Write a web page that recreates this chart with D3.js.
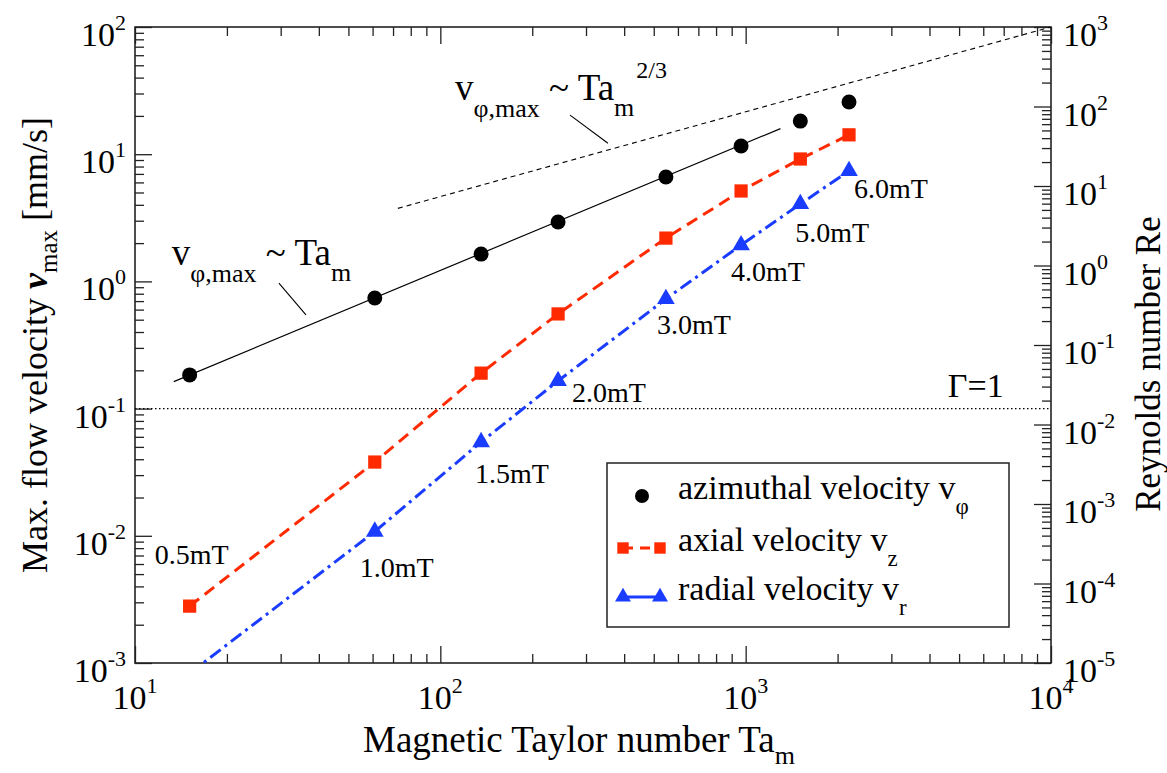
<!DOCTYPE html>
<html><head><meta charset="utf-8">
<script src="https://cdn.jsdelivr.net/npm/d3@7"></script>
<style>
body{margin:0;background:#fff}
svg text{font-family:"Liberation Serif","Times New Roman",serif;fill:#000}
</style>
</head><body>
<svg id="chart" width="1167" height="773"></svg>
<script>
// ---------------- data ----------------
const fieldLabels = ["0.5mT","1.0mT","1.5mT","2.0mT","3.0mT","4.0mT","5.0mT","6.0mT"];
const taM   = [15.1, 61.0, 136, 243, 548, 966, 1510, 2180];
const vPhi  = [0.184, 0.74, 1.64, 2.93, 6.62, 11.6, 18.2, 25.7];
const vZ    = [0.0028, 0.038, 0.19, 0.555, 2.19, 5.14, 9.17, 14.2];
const vR    = [0.00083, 0.0108, 0.0546, 0.165, 0.728, 1.93, 4.06, 7.38];
const fitLinTa = [13.4, 1300],  fitLinV = [0.163, 15.9];      // v ~ Ta
const fitTwoTa = [72.6, 10000], fitTwoV = [3.75, 100];         // v ~ Ta^(2/3)
const gammaTa = [10, 10000], gammaV = [0.1, 0.1];              // Γ=1
const xMajor  = [1e1, 1e2, 1e3, 1e4];
const yMajor  = [1e-3, 1e-2, 1e-1, 1e0, 1e1, 1e2];
const reMajor = [1e-5, 1e-4, 1e-3, 1e-2, 1e-1, 1e0, 1e1, 1e2, 1e3];
const xExp  = [1, 2, 3, 4];
const yExp  = [-3, -2, -1, 0, 1, 2];
const reExp = [-5, -4, -3, -2, -1, 0, 1, 2, 3];

// ---------------- layout ----------------
const L = 135, R = 1051, T = 27, B = 663;
const svg = d3.select("#chart");
const x   = d3.scaleLog().domain([10, 1e4]).range([L, R]);
const y   = d3.scaleLog().domain([1e-3, 1e2]).range([B, T]);
const yRe = d3.scaleLog().domain([1e-5, 1e3]).range([B, T]);

function minors(lo, hi) {
  const out = [];
  for (let e = lo; e < hi; e++) for (let k = 2; k <= 9; k++) out.push(k * Math.pow(10, e));
  return out;
}
const axisColor = "#222";

function styleAxis(g) {
  g.select(".domain").remove();
  g.selectAll(".tick line").attr("stroke", axisColor).attr("stroke-width", 1.3);
  g.selectAll(".tick text").remove();
}

// bottom
svg.append("g").attr("transform", `translate(0,${B})`)
  .call(d3.axisBottom(x).tickValues(xMajor).tickSize(-17)).call(styleAxis);
svg.append("g").attr("transform", `translate(0,${B})`)
  .call(d3.axisBottom(x).tickValues(minors(1, 4)).tickSize(-9)).call(styleAxis);
// top
svg.append("g").attr("transform", `translate(0,${T})`)
  .call(d3.axisTop(x).tickValues(xMajor).tickSize(-17)).call(styleAxis);
svg.append("g").attr("transform", `translate(0,${T})`)
  .call(d3.axisTop(x).tickValues(minors(1, 4)).tickSize(-9)).call(styleAxis);
// left
svg.append("g").attr("transform", `translate(${L},0)`)
  .call(d3.axisLeft(y).tickValues(yMajor).tickSize(-17)).call(styleAxis);
svg.append("g").attr("transform", `translate(${L},0)`)
  .call(d3.axisLeft(y).tickValues(minors(-3, 2)).tickSize(-9)).call(styleAxis);
// right
svg.append("g").attr("transform", `translate(${R},0)`)
  .call(d3.axisRight(yRe).tickValues(reMajor).tickSize(-17)).call(styleAxis);
svg.append("g").attr("transform", `translate(${R},0)`)
  .call(d3.axisRight(yRe).tickValues(minors(-5, 3)).tickSize(-9)).call(styleAxis);

// frame
svg.append("rect").attr("x", L).attr("y", T).attr("width", R - L).attr("height", B - T)
  .attr("fill", "none").attr("stroke", axisColor).attr("stroke-width", 1.6);

// tick labels
const TF = 34, SF = 22;
function powLabel(sel, e) {
  sel.append("tspan").text("10");
  sel.append("tspan").attr("font-size", SF).attr("dy", -16).text(e);
}
xMajor.forEach((v, i) => {
  svg.append("text").attr("x", x(v)).attr("y", B + 46).attr("text-anchor", "middle")
    .attr("font-size", TF).call(powLabel, xExp[i]);
});
yMajor.forEach((v, i) => {
  svg.append("text").attr("x", L - 9).attr("y", y(v) + 19).attr("text-anchor", "end")
    .attr("font-size", TF).call(powLabel, yExp[i]);
});
reMajor.forEach((v, i) => {
  svg.append("text").attr("x", R + 12).attr("y", yRe(v) + 19).attr("text-anchor", "start")
    .attr("font-size", TF).call(powLabel, reExp[i]);
});

// axis titles
const xt = svg.append("text").attr("x", (L + R) / 2 - 14).attr("y", 752)
  .attr("text-anchor", "middle").attr("font-size", 37);
xt.append("tspan").text("Magnetic Taylor number Ta");
xt.append("tspan").attr("font-size", 26).attr("dy", 12).text("m");

const yt = svg.append("text").attr("transform", `translate(47,${(T + B) / 2}) rotate(-90)`)
  .attr("text-anchor", "middle").attr("font-size", 36);
yt.append("tspan").text("Max. flow velocity ");
yt.append("tspan").attr("font-weight", "bold").attr("font-style", "italic").text("v");
yt.append("tspan").attr("font-size", 25).attr("dy", 10).text("max");
yt.append("tspan").attr("dy", -10).text(" [mm/s]");

svg.append("text").attr("transform", `translate(1160,${(T + B) / 2 + 19}) rotate(-90)`)
  .attr("text-anchor", "middle").attr("font-size", 35).text("Reynolds number Re");

// ---------------- plot ----------------
svg.append("clipPath").attr("id", "clip").append("rect")
  .attr("x", L).attr("y", T).attr("width", R - L).attr("height", B - T);
const plot = svg.append("g").attr("clip-path", "url(#clip)");

const line = d3.line().x(d => x(d[0])).y(d => y(d[1]));
const zip = (a, b) => a.map((v, i) => [v, b[i]]);

const RED = "#ff2a00", BLUE = "#1a3cff";

plot.append("path").datum(zip(gammaTa, gammaV)).attr("d", line)
  .attr("fill", "none").attr("stroke", "#000").attr("stroke-width", 1.2).attr("stroke-dasharray", "1.5,2.5");
plot.append("path").datum(zip(fitTwoTa, fitTwoV)).attr("d", line)
  .attr("fill", "none").attr("stroke", "#000").attr("stroke-width", 1.1).attr("stroke-dasharray", "5,4");
plot.append("path").datum(zip(fitLinTa, fitLinV)).attr("d", line)
  .attr("fill", "none").attr("stroke", "#000").attr("stroke-width", 1.2);

plot.append("path").datum(zip(taM, vZ)).attr("d", line)
  .attr("fill", "none").attr("stroke", RED).attr("stroke-width", 3).attr("stroke-dasharray", "12,7");
plot.append("path").datum(zip(taM, vR)).attr("d", line)
  .attr("fill", "none").attr("stroke", BLUE).attr("stroke-width", 3).attr("stroke-dasharray", "13,5,3,5");

const sq = d3.symbol().type(d3.symbolSquare).size(175);
const tri = d3.symbol().type(d3.symbolTriangle).size(135);

plot.selectAll(".phi").data(zip(taM, vPhi)).join("circle")
  .attr("cx", d => x(d[0])).attr("cy", d => y(d[1])).attr("r", 7.5).attr("fill", "#000");
plot.selectAll(".vz").data(zip(taM, vZ)).join("path")
  .attr("transform", d => `translate(${x(d[0])},${y(d[1])})`).attr("d", sq).attr("fill", RED);
plot.selectAll(".vr").data(zip(taM, vR)).join("path")
  .attr("transform", d => `translate(${x(d[0])},${y(d[1])})`).attr("d", tri).attr("fill", BLUE);

// field labels (offsets from the radial-velocity point, 0.5mT from axial point)
const labelOff = [[-35, -42], [-15, 45], [-6, 41], [14, 21], [-9, 35], [-10, 36], [-5, 38], [5, 27]];
fieldLabels.forEach((s, i) => {
  const base = i === 0 ? [taM[i], vZ[i]] : [taM[i], vR[i]];
  svg.append("text").attr("x", x(base[0]) + labelOff[i][0]).attr("y", y(base[1]) + labelOff[i][1])
    .attr("font-size", 28).text(s);
});

// annotations (anchors in data space)
function annot(ta, v, sup) {
  const t = svg.append("text").attr("x", x(ta)).attr("y", y(v)).attr("font-size", 37);
  t.append("tspan").text("v");
  t.append("tspan").attr("font-size", 26).attr("dy", 17).text("φ,max");
  t.append("tspan").attr("dy", -17).text(" ~ Ta");
  t.append("tspan").attr("font-size", 26).attr("dy", 16).text("m");
  if (sup) t.append("tspan").attr("font-size", 24).attr("dy", -38).attr("dx", 2).text(sup);
}
annot(13.2, 1.35, null);
annot(111.7, 26.7, "2/3");
const leader = [[[29.6, 0.971], [36.3, 0.545]], [[266, 20.3], [354, 12.2]]];
leader.forEach(seg => {
  svg.append("path").datum(seg).attr("d", line).attr("stroke", "#000").attr("stroke-width", 1.1).attr("fill", "none");
});
svg.append("text").attr("x", x(7000)).attr("y", y(gammaV[0]) - 12).attr("text-anchor", "end")
  .attr("font-size", 34).text("Γ=1");

// ---------------- legend ----------------
const lg = svg.append("g");
lg.append("rect").attr("x", 607).attr("y", 463).attr("width", 402).attr("height", 164)
  .attr("fill", "#fff").attr("stroke", axisColor).attr("stroke-width", 1.5);
const rows = [
  {y: 496, name: "azimuthal velocity v", sub: "φ"},
  {y: 548, name: "axial velocity v", sub: "z"},
  {y: 597, name: "radial velocity v", sub: "r"}
];
lg.append("circle").attr("cx", 642).attr("cy", rows[0].y).attr("r", 7).attr("fill", "#000");
lg.append("line").attr("x1", 623).attr("x2", 660).attr("y1", rows[1].y).attr("y2", rows[1].y)
  .attr("stroke", RED).attr("stroke-width", 3).attr("stroke-dasharray", "10,7");
[623, 660].forEach(cx => {
  lg.append("path").attr("transform", `translate(${cx},${rows[1].y})`).attr("d", d3.symbol().type(d3.symbolSquare).size(130)).attr("fill", RED);
});
lg.append("line").attr("x1", 623).attr("x2", 660).attr("y1", rows[2].y).attr("y2", rows[2].y)
  .attr("stroke", BLUE).attr("stroke-width", 3);
[623, 660].forEach(cx => {
  lg.append("path").attr("transform", `translate(${cx},${rows[2].y})`).attr("d", d3.symbol().type(d3.symbolTriangle).size(110)).attr("fill", BLUE);
});
rows.forEach(r => {
  const t = lg.append("text").attr("x", 678).attr("y", r.y + 3).attr("font-size", 34);
  t.append("tspan").text(r.name);
  t.append("tspan").attr("font-size", 23).attr("dy", 15).text(r.sub);
});
</script>
</body></html>
